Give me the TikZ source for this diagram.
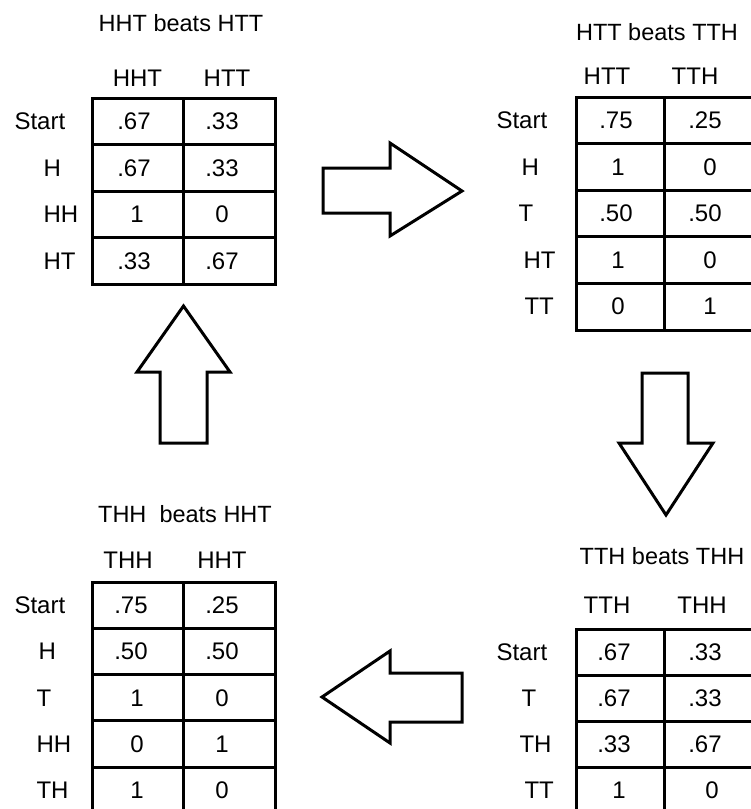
\documentclass[tikz,border=0pt]{standalone}
\usepackage{fontspec}
\setmainfont{Liberation Sans}
\begin{document}
\begin{tikzpicture}[x=1pt,y=-1pt, line width=3pt,
  txt/.style={font=\fontsize{24}{28}\selectfont, inner sep=0pt},
  ttl/.style={font=\fontsize{23.5}{28}\selectfont, inner sep=0pt},
  lbl/.style={txt, anchor=west},
  grid/.style={draw, line width=3pt},
  bigarrow/.style={draw, line width=3pt, line join=miter, fill=white}]
\useasboundingbox (0,0) rectangle (751,809);
\clip (0,0) rectangle (751,809);

% ---------- top-left: HHT beats HTT ----------
\draw[grid] (92,98) rectangle (275,284);
\draw[grid] (183,98) -- (183,284);
\foreach \y in {144.5,191,237.5} \draw[grid] (92,\y) -- (275,\y);
\node[ttl] (tltitle) at (181,23) {HHT beats HTT};
\node[txt] (tlh1) at (137.5,78) {HHT};
\node[txt] (tlh2) at (227,78) {HTT};
\node[lbl] (tlr1) at (13,121) {Start};
\node[lbl] (tlr2) at (42,168) {H};
\node[lbl] (tlr3) at (42,214) {HH};
\node[lbl] (tlr4) at (42,261) {HT};
\node[txt] (tla1) at (134,121) {.67};
\node[txt] (tlb1) at (222,121) {.33};
\node[txt] (tla2) at (134,168) {.67};
\node[txt] (tlb2) at (222,168) {.33};
\node[txt] (tla3) at (137,214) {1};
\node[txt] (tlb3) at (222,214) {0};
\node[txt] (tla4) at (134,261) {.33};
\node[txt] (tlb4) at (222,261) {.67};

% ---------- top-right: HTT beats TTH ----------
\draw[grid] (576,97) rectangle (752,330);
\draw[grid] (664,97) -- (664,330);
\foreach \y in {143.6,190.2,236.8,283.4} \draw[grid] (576,\y) -- (752,\y);
\node[ttl] (trtitle) at (657,32) {HTT beats TTH};
\node[txt] (trh1) at (607,76) {HTT};
\node[txt] (trh2) at (695,76) {TTH};
\node[lbl] (trr1) at (495,120.3) {Start};
\node[lbl] (trr2) at (520,166.9) {H};
\node[lbl] (trr3) at (517,213.5) {T};
\node[lbl] (trr4) at (522,260.1) {HT};
\node[lbl] (trr5) at (523,306.7) {TT};
\node[txt] (tra1) at (616,120.3) {.75};
\node[txt] (trb1) at (705,120.3) {.25};
\node[txt] (tra2) at (618,166.9) {1};
\node[txt] (trb2) at (710,166.9) {0};
\node[txt] (tra3) at (616,213.5) {.50};
\node[txt] (trb3) at (705,213.5) {.50};
\node[txt] (tra4) at (618,260.1) {1};
\node[txt] (trb4) at (710,260.1) {0};
\node[txt] (tra5) at (618,306.7) {0};
\node[txt] (trb5) at (710,306.7) {1};

% ---------- bottom-right: TTH beats THH ----------
\draw[grid] (576,629) rectangle (752,813);
\draw[grid] (664,629) -- (664,813);
\foreach \y in {675,721,767} \draw[grid] (576,\y) -- (752,\y);
\node[ttl] (brtitle) at (662,556) {TTH beats THH};
\node[txt] (brh1) at (607,605) {TTH};
\node[txt] (brh2) at (702,605) {THH};
\node[lbl] (brr1) at (495,652) {Start};
\node[lbl] (brr2) at (520,698) {T};
\node[lbl] (brr3) at (518,744) {TH};
\node[lbl] (brr4) at (523,790) {TT};
\node[txt] (bra1) at (614,652) {.67};
\node[txt] (brb1) at (705,652) {.33};
\node[txt] (bra2) at (614,698) {.67};
\node[txt] (brb2) at (705,698) {.33};
\node[txt] (bra3) at (614,744) {.33};
\node[txt] (brb3) at (705,744) {.67};
\node[txt] (bra4) at (619,790) {1};
\node[txt] (brb4) at (712,790) {0};

% ---------- bottom-left: THH beats HHT ----------
\draw[grid] (92,582) rectangle (275,813);
\draw[grid] (183,582) -- (183,813);
\foreach \y in {628.3,674.6,720.9,767.2} \draw[grid] (92,\y) -- (275,\y);
\node[ttl] (bltitle) at (185,514) {THH\ \ beats HHT};
\node[txt] (blh1) at (128,560) {THH};
\node[txt] (blh2) at (222,560) {HHT};
\node[lbl] (blr1) at (13,605) {Start};
\node[lbl] (blr2) at (37,651) {H};
\node[lbl] (blr3) at (35,698) {T};
\node[lbl] (blr4) at (35,744) {HH};
\node[lbl] (blr5) at (35,790) {TH};
\node[txt] (bla1) at (131,605) {.75};
\node[txt] (blb1) at (222,605) {.25};
\node[txt] (bla2) at (131,651) {.50};
\node[txt] (blb2) at (222,651) {.50};
\node[txt] (bla3) at (137,698) {1};
\node[txt] (blb3) at (222,698) {0};
\node[txt] (bla4) at (137,744) {0};
\node[txt] (blb4) at (222,744) {1};
\node[txt] (bla5) at (137,790) {1};
\node[txt] (blb5) at (222,790) {0};

% ---------- block arrows ----------
\draw[bigarrow] (323,168) -- (390,168) -- (390,143) -- (462,191) -- (390,236) -- (390,213) -- (323,213) -- cycle;
\draw[bigarrow] (642,373) -- (688,373) -- (688,443) -- (713,443) -- (666,515) -- (619,443) -- (642,443) -- cycle;
\draw[bigarrow] (462,673) -- (390,673) -- (390,651) -- (322,697) -- (390,743) -- (390,722) -- (462,722) -- cycle;
\draw[bigarrow] (160,443) -- (160,372) -- (137,372) -- (183.5,306) -- (230,372) -- (207,372) -- (207,443) -- cycle;
\end{tikzpicture}
\end{document}
